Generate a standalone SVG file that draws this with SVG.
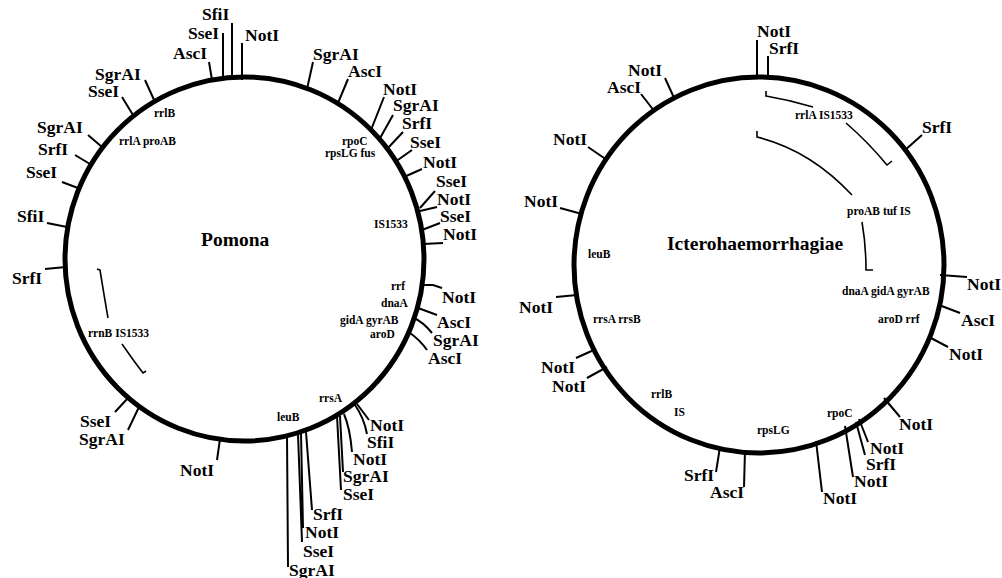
<svg xmlns="http://www.w3.org/2000/svg" width="1002" height="578" viewBox="0 0 1002 578">
<style>
.ring{fill:none;stroke:#000;stroke-width:5}
.tk{fill:none;stroke:#000;stroke-width:2}
.arc{fill:none;stroke:#000;stroke-width:1.6}
text{font-family:"Liberation Serif","Times New Roman",serif;font-weight:bold;fill:#000}
.lb{font-size:17.5px}
.sm{font-size:11.5px}
.ti{font-size:19.5px}
</style>
<rect width="1002" height="578" fill="#fff"/>
<g id="pomona">
<ellipse class="ring" cx="244.5" cy="259" rx="179.5" ry="182"/>
<text class="ti" x="201" y="246">Pomona</text>
<g id="pomona-sites">
<text class="lb" x="173" y="59">AscI</text>
<text class="lb" x="188" y="39">SseI</text>
<text class="lb" x="202" y="20">SfiI</text>
<text class="lb" x="245" y="41">NotI</text>
<text class="lb" x="313" y="60">SgrAI</text>
<text class="lb" x="348" y="77">AscI</text>
<text class="lb" x="383" y="95">NotI</text>
<text class="lb" x="393" y="111">SgrAI</text>
<text class="lb" x="402" y="129">SrfI</text>
<text class="lb" x="410" y="148">SseI</text>
<text class="lb" x="423" y="168">NotI</text>
<text class="lb" x="436" y="187">SseI</text>
<text class="lb" x="437" y="205">NotI</text>
<text class="lb" x="440" y="222">SseI</text>
<text class="lb" x="443" y="240">NotI</text>
<text class="lb" x="442" y="303">NotI</text>
<text class="lb" x="437" y="328">AscI</text>
<text class="lb" x="433" y="346">SgrAI</text>
<text class="lb" x="428" y="364">AscI</text>
<text class="lb" x="95" y="80">SgrAI</text>
<text class="lb" x="88" y="97">SseI</text>
<text class="lb" x="37" y="133">SgrAI</text>
<text class="lb" x="38" y="155">SrfI</text>
<text class="lb" x="26" y="178">SseI</text>
<text class="lb" x="17" y="222">SfiI</text>
<text class="lb" x="12" y="284">SrfI</text>
<text class="lb" x="80" y="427">SseI</text>
<text class="lb" x="79" y="445">SgrAI</text>
<text class="lb" x="180" y="476">NotI</text>
<text class="lb" x="289" y="576">SgrAI</text>
<text class="lb" x="303" y="557">SseI</text>
<text class="lb" x="305" y="538">NotI</text>
<text class="lb" x="313" y="520">SrfI</text>
<text class="lb" x="343" y="500">SseI</text>
<text class="lb" x="343" y="482">SgrAI</text>
<text class="lb" x="353" y="465">NotI</text>
<text class="lb" x="367" y="448">SfiI</text>
<text class="lb" x="370" y="431">NotI</text>
</g>
<g id="pomona-genes">
<text class="sm" x="154" y="117">rrlB</text>
<text class="sm" x="119" y="145">rrlA proAB</text>
<text class="sm" x="342" y="145">rpoC</text>
<text class="sm" x="325" y="157">rpsLG fus</text>
<text class="sm" x="374" y="228">IS1533</text>
<text class="sm" x="391" y="290">rrf</text>
<text class="sm" x="381" y="307">dnaA</text>
<text class="sm" x="340" y="324">gidA gyrAB</text>
<text class="sm" x="370" y="338">aroD</text>
<text class="sm" x="319" y="402">rrsA</text>
<text class="sm" x="277" y="421">leuB</text>
<text class="sm" x="88" y="337">rrnB IS1533</text>
</g>
</g>
<g id="ictero">
<ellipse class="ring" cx="759" cy="265" rx="185" ry="188"/>
<text class="ti" x="667" y="250">Icterohaemorrhagiae</text>
<g id="ictero-sites">
<text class="lb" x="757" y="37">NotI</text>
<text class="lb" x="769" y="54">SrfI</text>
<text class="lb" x="628" y="76">NotI</text>
<text class="lb" x="607" y="93">AscI</text>
<text class="lb" x="553" y="145">NotI</text>
<text class="lb" x="524" y="207">NotI</text>
<text class="lb" x="519" y="313">NotI</text>
<text class="lb" x="541" y="373">NotI</text>
<text class="lb" x="552" y="392">NotI</text>
<text class="lb" x="684" y="481">SrfI</text>
<text class="lb" x="710" y="498">AscI</text>
<text class="lb" x="823" y="504">NotI</text>
<text class="lb" x="854" y="487">NotI</text>
<text class="lb" x="866" y="470">SrfI</text>
<text class="lb" x="870" y="454">NotI</text>
<text class="lb" x="899" y="430">NotI</text>
<text class="lb" x="949" y="360">NotI</text>
<text class="lb" x="961" y="326">AscI</text>
<text class="lb" x="967" y="290">NotI</text>
<text class="lb" x="922" y="133">SrfI</text>
</g>
<g id="ictero-genes">
<text class="sm" x="588" y="258">leuB</text>
<text class="sm" x="795" y="119">rrlA IS1533</text>
<text class="sm" x="847" y="215">proAB tuf IS</text>
<text class="sm" x="842" y="295">dnaA gidA gyrAB</text>
<text class="sm" x="878" y="323">aroD rrf</text>
<text class="sm" x="593" y="323">rrsA rrsB</text>
<text class="sm" x="651" y="398">rrlB</text>
<text class="sm" x="674" y="416">IS</text>
<text class="sm" x="827" y="417">rpoC</text>
<text class="sm" x="757" y="434">rpsLG</text>
</g>
</g>
<g id="connectors">
<path class="tk" d="M209 62L212 80M223 33L223 80M232 23L232 80M242 43L242 80M313 62L307 89M348 79L338 103M384 97L371 130M393 115L379 140M403 132L387 149M412 150L395 162M422 169L404 177M435 191L420 208M437 207L420 211M440 223L422 230M443 243L423 244M442 288L433 285L422 285M437 315L418 308"/>
<path class="tk" d="M432 333Q423 322 414 318M427 350Q420 340 410 333"/>
<path class="tk" d="M145 80L155 102M122 97L133 115M88 135L102 147M75 155L90 164M62 182L78 188M47 223L67 227M45 269L66 267M115 412L128 398M128 430L139 407M217 460L220 439"/>
<path class="tk" d="M288 567L287 435M302 542L298 434M303 528L301 433M312 510L306 432M341 490L337 416M343 472L340 416M352 452Q350 428 344 414M369 420L357 404M367 434Q364 418 355 405"/>
<path class="arc" d="M97 269L100 270Q104 295 108 318M122 344Q133 360 143 373L146 371"/>
<path class="tk" d="M757 40L757 79M768 56L768 79M665 78L675 100M641 94L655 112M588 147L607 160M560 208L582 214M556 297L577 295M576 358L596 349M587 378L607 367M716 472L720 447M744 487L745 450M822 492L816 441M853 477L845 426M865 455L856 422M868 442L859 419M900 417L884 398M948 347L929 337M960 313L939 305M967 277L940 275M922 135L904 151"/>
<path class="arc" d="M766 91L766 96Q790 100 813 107M846 123Q868 142 887 165L892 161M757 131L757 137Q810 150 852 195M862 222Q866 245 866 270L873 270"/>
</g>
</svg>
